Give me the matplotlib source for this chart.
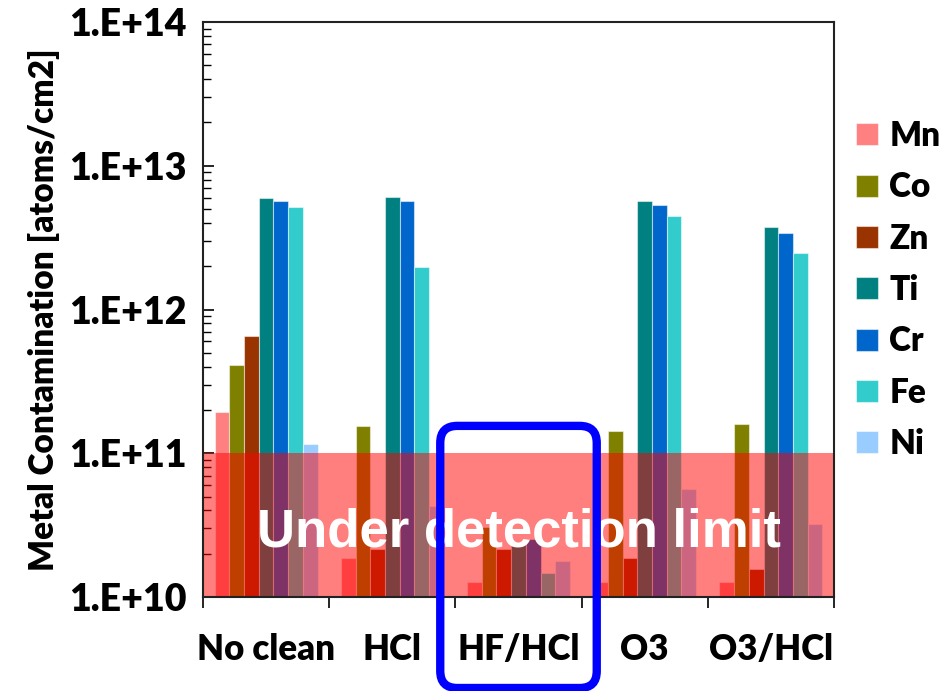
import matplotlib
matplotlib.use("Agg")
import matplotlib.pyplot as plt
from matplotlib.patches import FancyBboxPatch
from matplotlib.ticker import LogLocator, FixedLocator, NullFormatter
import numpy as np

plt.rcParams['font.family'] = ['Lato', 'DejaVu Sans']
BOLD = 'heavy'

treatments = ['No clean', 'HCl', 'HF/HCl', 'O3', 'O3/HCl']
metals = ['Mn', 'Co', 'Zn', 'Ti', 'Cr', 'Fe', 'Ni']
colors = ['#FF8080', '#808000', '#993300', '#008080', '#0066CC', '#33CCCC', '#99CCFF']

# atoms/cm2, one list per metal, in treatment order
Mn = [1.95e11, 1.87e10, 1.28e10, 1.28e10, 1.28e10]
Co = [4.1e11, 1.55e11, 3.07e10, 1.42e11, 1.59e11]
Zn = [6.5e11, 2.16e10, 2.15e10, 1.86e10, 1.56e10]
Ti = [5.95e12, 6.05e12, 2.42e10, 5.7e12, 3.74e12]
Cr = [5.7e12, 5.7e12, 2.55e10, 5.35e12, 3.39e12]
Fe = [5.2e12, 1.97e12, 1.47e10, 4.5e12, 2.46e12]
Ni = [1.16e11, 4.3e10, 1.77e10, 5.6e10, 3.22e10]
series = [Mn, Co, Zn, Ti, Cr, Fe, Ni]

detection_limit = 1e11
y_min, y_max = 1e10, 1e14

fig = plt.figure(figsize=(9.41, 6.91), dpi=100)
ax = fig.add_axes([203/941, 1 - 597/691, (834 - 203)/941, (597 - 22)/691])

x = np.arange(len(treatments))
w = 0.1165
for i, (name, vals, c) in enumerate(zip(metals, series, colors)):
    ax.bar(x + (i - 3) * w, np.array(vals) - y_min, width=w, bottom=y_min,
           color=c, edgecolor=(1, 1, 1, 0.5), linewidth=0.8, label=name, zorder=2)

ax.set_yscale('log')
ax.set_ylim(y_min, y_max)
ax.set_xlim(-0.5, len(treatments) - 0.5)

# red band below detection limit
ax.axhspan(y_min, detection_limit, color='red', alpha=0.5, lw=0, zorder=3)
ax.text(0.5, 10 ** 10.45, 'Under detection limit', transform=ax.get_yaxis_transform(),
        ha='center', va='center', color='white', fontsize=38, fontweight='bold',
        family=['Liberation Sans'], zorder=4)

# y axis
ax.yaxis.set_minor_locator(LogLocator(base=10, subs=np.arange(2, 10), numticks=10))
ax.yaxis.set_minor_formatter(NullFormatter())
ax.set_yticks([1e10, 1e11, 1e12, 1e13, 1e14])
ax.set_yticklabels(['1.E+10', '1.E+11', '1.E+12', '1.E+13', '1.E+14'],
                   fontsize=27, fontweight=BOLD)
ax.tick_params(axis='y', which='major', direction='in', length=8, width=1.2, pad=12)
ax.tick_params(axis='y', which='minor', direction='in', length=6, width=1.0)
ax.set_ylabel('Metal Contamination [atoms/cm2]', fontsize=24, fontweight=BOLD, labelpad=6)

# x axis: ticks between groups, labels at group centres
ax.xaxis.set_major_locator(FixedLocator(np.arange(len(treatments) + 1) - 0.5))
ax.xaxis.set_major_formatter(NullFormatter())
ax.xaxis.set_minor_locator(FixedLocator(x))
ax.set_xticklabels(treatments, minor=True, fontsize=25, fontweight=BOLD)
ax.tick_params(axis='x', which='major', direction='out', length=8, width=1.2)
ax.tick_params(axis='x', which='minor', length=0, pad=26)

for s in ax.spines.values():
    s.set_linewidth(1.5)
    s.set_color('#222222')
    s.set_zorder(5)

ax.legend(loc='center left', bbox_to_anchor=(856/941, 1 - 290/691), bbox_transform=fig.transFigure,
          frameon=False, prop={'size': 24, 'weight': BOLD}, handlelength=0.65, handleheight=0.65,
          handletextpad=0.35, labelspacing=0.58, borderpad=0, borderaxespad=0)

# highlight box around the HF/HCl group
fig.canvas.draw()
x0, _ = ax.transData.transform((2 - 0.62, 1e10))
x1, _ = ax.transData.transform((2 + 0.62, 1e10))
_, y1 = ax.transData.transform((2, 1.55e11))
y0 = 3
to_in = fig.dpi_scale_trans.inverted()
(ix0, iy0), (ix1, iy1) = to_in.transform([(x0, y0), (x1, y1)])
box = FancyBboxPatch((ix0, iy0), ix1 - ix0, iy1 - iy0, boxstyle='round,pad=0,rounding_size=0.17',
                     transform=fig.dpi_scale_trans, fill=False, edgecolor='#0000FF', lw=6,
                     clip_on=False, zorder=6)
fig.add_artist(box)

fig.savefig('out.png', dpi=100)
